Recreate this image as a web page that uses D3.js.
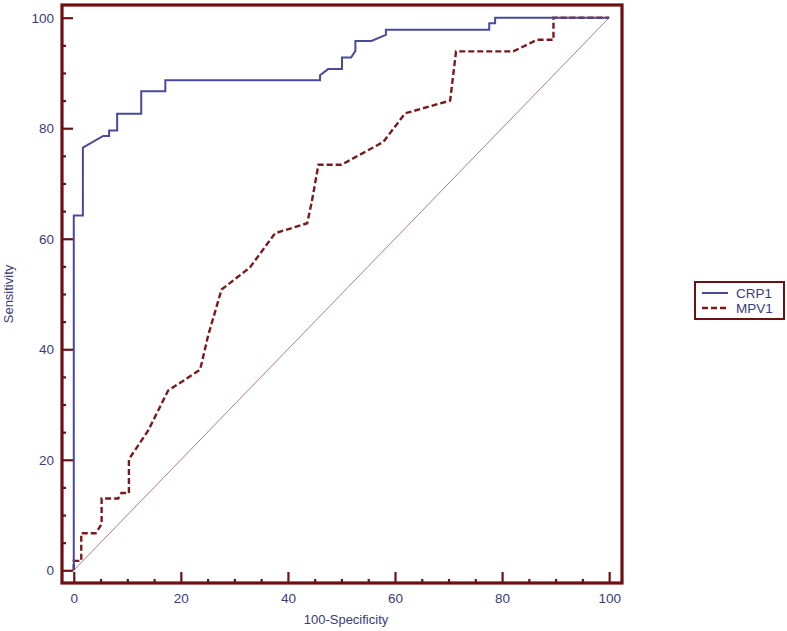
<!DOCTYPE html>
<html lang="en">
<head>
<meta charset="utf-8">
<title>ROC curves CRP1 / MPV1</title>
<script src="https://d3js.org/d3.v7.min.js"></script>
<style>
  body { margin: 0; background: #fff; }
  text { font-family: "Liberation Sans", Arial, sans-serif; }
</style>
</head>
<body>
<svg width="787" height="631"></svg>
<script>
// ROC points: [100-specificity, sensitivity]
var crp1 = [[0,0],[0,64.2],[1.7,64.2],[1.7,76.5],[5.5,78.6],[6.6,78.6],[6.6,79.6],[8.1,79.6],
  [8.1,82.6],[12.6,82.6],[12.6,86.7],[17.1,86.7],[17.1,88.7],[46,88.7],[46,89.6],[47.5,90.7],
  [50.1,90.7],[50.1,92.8],[51.8,92.8],[52.6,94],[52.6,95.8],[55.6,95.8],[58.3,96.9],[58.3,97.8],
  [77.6,97.8],[77.6,99],[78.7,99],[78.7,100],[100,100]];
var mpv1 = [[0,0],[0,1.7],[1.4,1.7],[1.4,6.7],[4.1,6.7],[5.2,8.4],[5.2,13],[8.3,13],[8.9,14],
  [10.3,14],[10.3,20.1],[13.9,25.3],[17.6,32.5],[23.6,36.3],[25.1,42.5],[27.6,50.8],[32.9,54.8],
  [37.6,61],[43.6,62.8],[44.5,66.9],[45.7,73.4],[50,73.4],[57.8,77.5],[61.9,82.7],[70.3,85],
  [71.4,93.9],[82.1,93.9],[86.5,96],[89.6,96],[89.6,100],[100,100]];
var refLine = [[0,0],[100,100]];
var majorTicks = [0, 20, 40, 60, 80, 100];
var minorTicks = [5, 10, 15, 25, 30, 35, 45, 50, 55, 65, 70, 75, 85, 90, 95];
var seriesNames = ['CRP1', 'MPV1'];

var frameCol = '#6b1114', labelCol = '#3b3b78';
var svg = d3.select('svg');
var pLeft = 62, pRight = 622, pTop = 5, pBottom = 583;

var x = d3.scaleLinear().domain([-2.2, 102.4]).range([pLeft, pRight]);
var y = d3.scaleLinear().domain([-2.3, 102.3]).range([pBottom, pTop]);

// minor ticks first, then major with labels
svg.append('g').attr('transform', 'translate(' + pLeft + ',0)')
  .call(d3.axisLeft(y).tickValues(minorTicks).tickSize(-4).tickFormat(''))
  .call(function(g) { g.select('.domain').remove(); g.selectAll('line').attr('stroke', frameCol).attr('stroke-width', 2.2); });
svg.append('g').attr('transform', 'translate(0,' + pBottom + ')')
  .call(d3.axisBottom(x).tickValues(minorTicks).tickSize(-4).tickFormat(''))
  .call(function(g) { g.select('.domain').remove(); g.selectAll('line').attr('stroke', frameCol).attr('stroke-width', 2.2); });

svg.append('g').attr('transform', 'translate(' + pLeft + ',0)')
  .call(d3.axisLeft(y).tickValues(majorTicks).tickSizeInner(-11).tickSizeOuter(0).tickPadding(8))
  .call(function(g) {
    g.select('.domain').remove();
    g.selectAll('line').attr('stroke', frameCol).attr('stroke-width', 2.2);
    g.selectAll('text').attr('fill', labelCol).style('font-size', '13.5px');
  });
svg.append('g').attr('transform', 'translate(0,' + pBottom + ')')
  .call(d3.axisBottom(x).tickValues(majorTicks).tickSizeInner(-11).tickSizeOuter(0).tickPadding(10))
  .call(function(g) {
    g.select('.domain').remove();
    g.selectAll('line').attr('stroke', frameCol).attr('stroke-width', 2.2);
    g.selectAll('text').attr('fill', labelCol).style('font-size', '13.5px');
  });

// frame
svg.append('rect')
  .attr('x', pLeft).attr('y', pTop).attr('width', pRight - pLeft).attr('height', pBottom - pTop)
  .attr('fill', 'none').attr('stroke', frameCol).attr('stroke-width', 3.2);

// axis titles
svg.append('text').attr('x', (pLeft + pRight) / 2 + 4).attr('y', 624)
  .attr('text-anchor', 'middle').attr('fill', labelCol).style('font-size', '13px')
  .text('100-Specificity');
svg.append('text').attr('transform', 'translate(13,' + ((pTop + pBottom) / 2) + ') rotate(-90)')
  .attr('text-anchor', 'middle').attr('fill', labelCol).style('font-size', '13px')
  .text('Sensitivity');

var line = d3.line().x(function(d) { return x(d[0]); }).y(function(d) { return y(d[1]); });

svg.append('path').datum(refLine).attr('d', line)
  .attr('fill', 'none').attr('stroke', '#9a5a5a').attr('stroke-width', 0.8);

svg.append('path').datum(mpv1).attr('d', line)
  .attr('fill', 'none').attr('stroke', '#7a1a1c').attr('stroke-width', 2.4)
  .attr('stroke-dasharray', '6,3');

svg.append('path').datum(crp1).attr('d', line)
  .attr('fill', 'none').attr('stroke', '#4a4a9c').attr('stroke-width', 2);

// legend
var lg = svg.append('g');
lg.append('rect').attr('x', 695).attr('y', 282).attr('width', 89).attr('height', 37)
  .attr('fill', '#fff').attr('stroke', frameCol).attr('stroke-width', 2);
var styles = [{c: '#4a4a9c', dash: null, w: 2}, {c: '#7a1a1c', dash: '6,3', w: 2.4}];
seriesNames.forEach(function(n, i) {
  var yy = 293 + i * 15;
  lg.append('line').attr('x1', 702).attr('x2', 728).attr('y1', yy).attr('y2', yy)
    .attr('stroke', styles[i].c).attr('stroke-width', styles[i].w)
    .attr('stroke-dasharray', styles[i].dash);
  lg.append('text').attr('x', 736).attr('y', yy + 5).attr('fill', labelCol)
    .style('font-size', '13.5px').text(n);
});
</script>
</body>
</html>
